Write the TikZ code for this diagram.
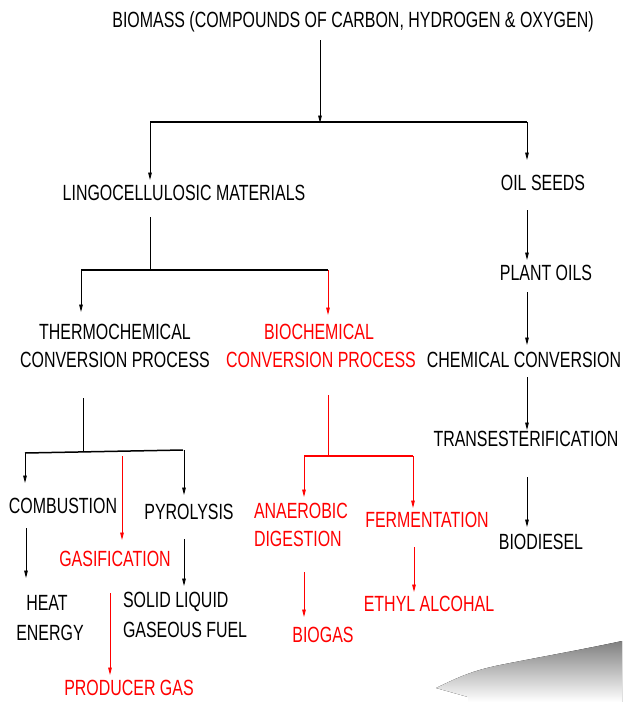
\documentclass[tikz,border=0pt]{standalone}
\usepackage{fontspec}
\setmainfont{Liberation Sans}[FakeStretch=0.725]
\usetikzlibrary{arrows.meta}
\definecolor{myred}{RGB}{255,0,0}
\definecolor{shade}{RGB}{214,214,214}
\begin{document}
\begin{tikzpicture}[x=1pt,y=-1pt,
  txt/.style={inner sep=0pt, outer sep=0pt, font=\fontsize{22}{28}\selectfont, text height=15.8pt, text depth=0pt},
  rtxt/.style={txt, text=myred},
  conn/.style={line width=0.9pt, draw=black},
  arr/.style={conn, -{Triangle[length=7.5pt,width=3.6pt]}},
  rconn/.style={conn, draw=myred},
  rarr/.style={arr, draw=myred, fill=myred},
  bar/.style={line width=1.5pt, draw=black},
  rbar/.style={line width=1.5pt, draw=myred}]
\useasboundingbox (0,0) rectangle (622,702);
% gray shape
\fill[shade] (436,688) .. controls (455,679) and (470,671) .. (500,665)
  .. controls (540,657) and (580,650) .. (622,641) -- (622,702) -- (468,702) -- (468,697) -- cycle;
% text nodes
\node[txt] (title) at (353,20) {BIOMASS (COMPOUNDS OF CARBON, HYDROGEN \& OXYGEN)};
\node[txt] (lingo) at (184,193) {LINGOCELLULOSIC MATERIALS};
\node[txt] (oil) at (543,183) {OIL SEEDS};
\node[txt] (plant) at (546,273) {PLANT OILS};
\node[txt] (chem) at (524,360) {CHEMICAL CONVERSION};
\node[txt] (trans) at (526,439) {TRANSESTERIFICATION};
\node[txt] (biodiesel) at (541,542) {BIODIESEL};
\node[txt] (thermoA) at (115,332) {THERMOCHEMICAL};
\node[txt] (thermoB) at (115,360) {CONVERSION PROCESS};
\node[rtxt] (bioA) at (319,332) {BIOCHEMICAL};
\node[rtxt] (bioB) at (321,360) {CONVERSION PROCESS};
\node[txt] (comb) at (63,506) {COMBUSTION};
\node[rtxt] (gas) at (115,559) {GASIFICATION};
\node[txt] (pyro) at (189,512) {PYROLYSIS};
\node[txt] (heatA) at (47,603) {HEAT};
\node[txt] (heatB) at (50,633) {ENERGY};
\node[txt, anchor=west] (solidA) at (123,600) {SOLID LIQUID};
\node[txt, anchor=west] (solidB) at (123,630) {GASEOUS FUEL};
\node[rtxt] (producer) at (129,688) {PRODUCER GAS};
\node[rtxt, anchor=west] (anaA) at (254,511) {ANAEROBIC};
\node[rtxt, anchor=west] (anaB) at (254,539) {DIGESTION};
\node[rtxt] (ferm) at (427,520) {FERMENTATION};
\node[rtxt] (biogas) at (323,635) {BIOGAS};
\node[rtxt] (ethyl) at (429,604) {ETHYL ALCOHAL};
% junction coordinates
\coordinate (b1L) at (150,122); \coordinate (b1M) at (320,122); \coordinate (b1R) at (527,122);
\coordinate (b2L) at (81,270); \coordinate (b2M) at (150,270); \coordinate (b2R) at (328,270);
\coordinate (b3L) at (25,453); \coordinate (b3M) at (83,452); \coordinate (b3R) at (183,450);
\coordinate (b4L) at (304,456); \coordinate (b4M) at (328,456); \coordinate (b4R) at (413,456);
% top level
\draw[arr] (320,40) -- ([yshift=-1pt]b1M);
\draw[bar] (b1L) -- (b1R);
\draw[arr] (b1L) -- (150,180);
\draw[arr] (b1R) -- (527,160);
% lingocellulosic branch
\draw[conn] (150,217) -- (b2M);
\draw[bar] (b2L) -- (b2R);
\draw[arr] (b2L) -- (81,312);
\draw[rarr] (b2R) -- (328,315);
% oil seeds chain
\draw[arr] (527,210) -- (527,260);
\draw[arr] (527,292) -- (527,345);
\draw[arr] (527,377) -- (527,430);
\draw[arr] (527,477) -- (527,527);
% thermochemical branch
\draw[conn] (83,398) -- (b3M);
\draw[bar] (b3L) -- (b3R);
\draw[arr] (b3L) -- (25,483);
\draw[rarr] (122,456) -- (122,540);
\draw[arr] (184,450) -- (184,495);
\draw[arr] (26,528) -- (26,578);
\draw[arr] (184,539) -- (184,586);
\draw[rarr] (110,593) -- (110,675);
% biochemical branch
\draw[rconn] (328,395) -- (b4M);
\draw[rbar] (b4L) -- (b4R);
\draw[rarr] (b4L) -- (304,497);
\draw[rarr] (b4R) -- (413,508);
\draw[rarr] (304,572) -- (304,617);
\draw[rarr] (414,547) -- (414,592);
\end{tikzpicture}
\end{document}
